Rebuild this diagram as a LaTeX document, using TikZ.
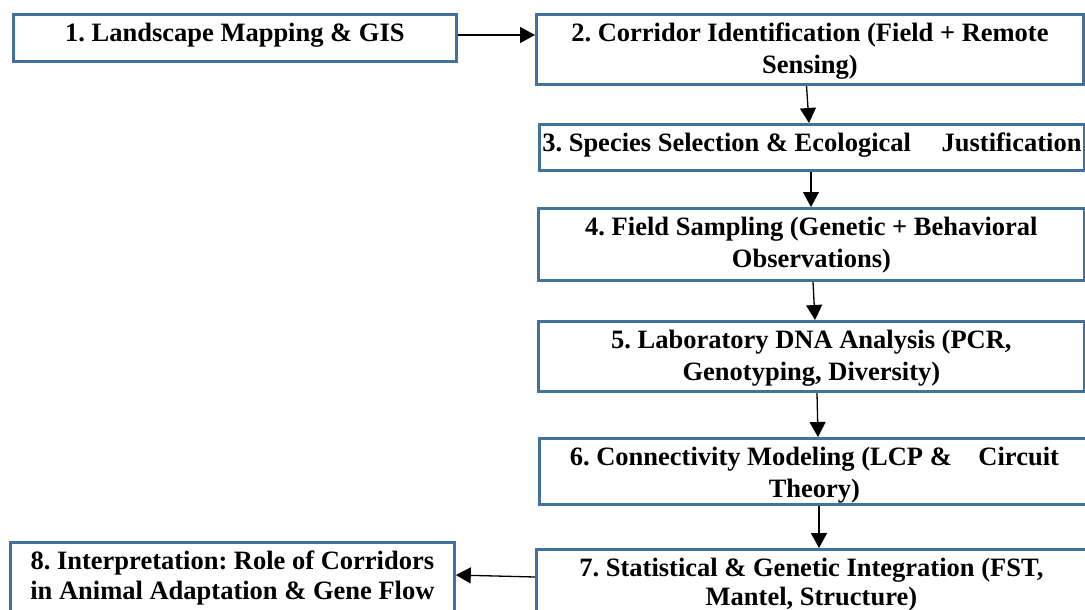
\documentclass[tikz,border=0pt]{standalone}
\usepackage{fontspec}
\setmainfont{Liberation Serif}
\usetikzlibrary{arrows.meta,calc}
\definecolor{boxblue}{HTML}{41719C}
\frenchspacing
\newcommand{\btext}[2]{\parbox[t]{#1}{\centering\fontsize{26.5pt}{32pt}\selectfont\bfseries\frenchspacing #2}}
\tikzset{
  stepbox/.style={draw=boxblue, line width=2.8pt, inner sep=0pt, anchor=north west, text height=27pt},
  arr/.style={draw=black, line width=1.3pt, -{Triangle[length=15pt,width=16pt]}}
}
\begin{document}
\begin{tikzpicture}[x=1pt,y=-1pt]
\useasboundingbox (0,0) rectangle (1085,610);
\clip (0,0) rectangle (1085,610);
\fill[white] (0,0) rectangle (1085,610);
\node[stepbox, text depth=20pt] (b1) at (12,13) {\btext{443pt}{1. Landscape Mapping \& GIS}};
\node[stepbox, text depth=43pt] (b2) at (535,13) {\btext{547pt}{2. Corridor Identification (Field + Remote\\Sensing)}};
\node[stepbox, text depth=19pt] (b3) at (538,123) {\btext{545pt}{\mbox{3. Species Selection \& Ecological\hspace{24pt} Justification}}};
\node[stepbox, text depth=45pt] (b4) at (537,207) {\btext{546pt}{4. Field Sampling (Genetic + Behavioral\\Observations)}};
\node[stepbox, text depth=43pt] (b5) at (537,320) {\btext{546pt}{5. Laboratory DNA Analysis (PCR,\\Genotyping, Diversity)}};
\node[stepbox, text depth=39pt] (b6) at (538,437) {\btext{550pt}{\mbox{6. Connectivity Modeling (LCP \&\hspace{20pt} Circuit}\\Theory)}};
\node[stepbox, text depth=53pt] (b7) at (535,548) {\btext{550pt}{7. Statistical \& Genetic Integration (FST,\\[-3pt]Mantel, Structure)}};
\node[stepbox, text depth=53pt] (b8) at (9,541) {\btext{444pt}{8. Interpretation: Role of Corridors\\[-2pt]in Animal Adaptation \& Gene Flow}};
\draw[arr] ($(b1.north east)+(0,22)$) -- ($(b2.north west)+(0,22)$);
\draw[arr] ($(b2.south west)+(271.5,0)$) -- ($(b3.north west)+(271,0)$);
\draw[arr] ($(b3.south west)+(273,0)$) -- ($(b4.north west)+(274,0)$);
\draw[arr] ($(b4.south west)+(276,0)$) -- ($(b5.north west)+(278,0)$);
\draw[arr] ($(b5.south west)+(280,0)$) -- ($(b6.north west)+(280,0)$);
\draw[arr] ($(b6.south west)+(281,0)$) -- ($(b7.north west)+(284,0)$);
\draw[arr] ($(b7.north west)+(0,29)$) -- ($(b8.north east)+(0,34)$);
\end{tikzpicture}
\end{document}
